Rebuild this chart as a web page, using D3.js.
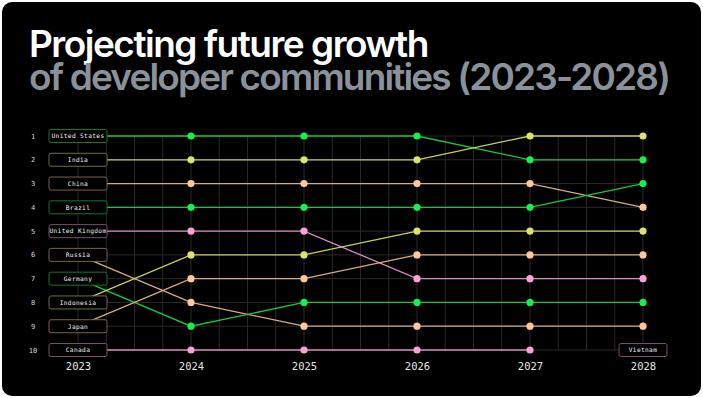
<!DOCTYPE html>
<html>
<head>
<meta charset="utf-8">
<script src="https://cdn.jsdelivr.net/npm/d3@7"></script>
<style>
  html, body { margin: 0; padding: 0; background: #fff; }
  svg { display: block; }
</style>
</head>
<body>
<div id="chart"></div>
<script>
(function() {
    let w = 703;
    let h = 398;

    // data
    let years = [2023, 2024, 2025, 2026, 2027, 2028];
    let countries = ["United States", "India", "China", "Brazil", "United Kingdom",
        "Russia", "Germany", "Indonesia", "Japan", "Canada", "Vietnam"];
    let colors = ["green", "yellow", "peach", "green", "pink",
        "peach", "green", "yellow", "peach", "pink", "pink"];
    let ranks = [
        [1, 1, 1, 1, 2, 2],
        [2, 2, 2, 2, 1, 1],
        [3, 3, 3, 3, 3, 4],
        [4, 4, 4, 4, 4, 3],
        [5, 5, 5, 7, 7, 7],
        [6, 8, 9, 9, 9, 9],
        [7, 9, 8, 8, 8, 8],
        [8, 6, 6, 5, 5, 5],
        [9, 7, 7, 6, 6, 6],
        [10, 10, 10, 10, 10, null],
        [null, null, null, null, null, 10]
    ];
    let rankTicks = [1, 2, 3, 4, 5, 6, 7, 8, 9, 10];

    let palette = {
        green:  { dot: "#13f04f", line: "#12c944", box: "#0d7a2c" },
        yellow: { dot: "#dbe468", line: "#c9d05a", box: "#6e7030" },
        peach:  { dot: "#ffc79c", line: "#d9aa86", box: "#7d6050" },
        pink:   { dot: "#ff9fd9", line: "#d98bbb", box: "#7a4f68" }
    };

    let svg = d3.select("#chart")
        .append("svg")
        .attr("width", w)
        .attr("height", h);

    svg.append("rect")
        .attr("x", 2).attr("y", 2)
        .attr("width", w - 4).attr("height", h - 4)
        .attr("rx", 10)
        .attr("fill", "#000");

    // title
    svg.append("text")
        .attr("x", 29).attr("y", 57)
        .attr("fill", "#fff")
        .attr("font-family", "Inter")
        .attr("font-weight", 600)
        .attr("font-size", 37)
        .attr("letter-spacing", -1.5)
        .text("Projecting future growth");
    svg.append("text")
        .attr("x", 29).attr("y", 90)
        .attr("fill", "#8a919b")
        .attr("font-family", "Inter")
        .attr("font-weight", 600)
        .attr("font-size", 37)
        .attr("letter-spacing", -1.85)
        .text("of developer communities (2023-2028)");

    let x = d3.scaleLinear().domain([2023, 2028]).range([78, 643]);
    let y = d3.scaleLinear().domain([1, 10]).range([136, 350]);

    // grid
    let g = svg.append("g");
    g.selectAll(".vgrid")
        .data(d3.range(2023, 2028.01, 0.25))
        .enter().append("line")
        .attr("x1", (d) => x(d)).attr("x2", (d) => x(d))
        .attr("y1", y(1)).attr("y2", y(10))
        .attr("stroke", "#292929").attr("stroke-width", 1);
    g.selectAll(".hgrid")
        .data(rankTicks)
        .enter().append("line")
        .attr("x1", x(2023)).attr("x2", x(2028))
        .attr("y1", (d) => y(d)).attr("y2", (d) => y(d))
        .attr("stroke", "#292929").attr("stroke-width", 1);

    // rank numbers
    svg.selectAll(".rank")
        .data(rankTicks)
        .enter().append("text")
        .attr("x", 33).attr("y", (d) => y(d) + 2.5)
        .attr("text-anchor", "middle")
        .attr("fill", "#d8d8d8")
        .attr("font-family", "DejaVu Sans Mono")
        .attr("font-size", 7)
        .text((d) => d);

    // year axis
    let axis = svg.append("g")
        .attr("transform", "translate(0," + 360 + ")")
        .call(d3.axisBottom(x).tickValues(years).tickFormat(d3.format("d")).tickSize(0));
    axis.select(".domain").remove();
    axis.selectAll("text")
        .attr("fill", "#e6e6e6")
        .attr("font-family", "DejaVu Sans Mono")
        .attr("font-size", 10.5);

    let series = countries.map((c, i) => ({
        name: c,
        color: palette[colors[i]],
        points: years.map((yr, j) => ({ year: yr, rank: ranks[i][j] }))
            .filter((p) => p.rank !== null)
    }));

    let line = d3.line()
        .x((d) => x(d.year))
        .y((d) => y(d.rank));

    svg.selectAll(".series")
        .data(series)
        .enter().append("path")
        .attr("d", (d) => line(d.points))
        .attr("fill", "none")
        .attr("stroke", (d) => d.color.line)
        .attr("stroke-width", 1.3);

    // dots (skip first point, covered by label box)
    let dots = [];
    series.forEach((s) => {
        s.points.slice(1).forEach((p) => dots.push({ year: p.year, rank: p.rank, color: s.color }));
    });
    svg.selectAll(".dot")
        .data(dots)
        .enter().append("circle")
        .attr("cx", (d) => x(d.year))
        .attr("cy", (d) => y(d.rank))
        .attr("r", 3.6)
        .attr("fill", (d) => d.color.dot);

    // label boxes at first point
    let labels = svg.selectAll(".label")
        .data(series)
        .enter().append("g")
        .attr("transform", (d) => "translate(" + x(d.points[0].year) + "," + y(d.points[0].rank) + ")");
    labels.append("rect")
        .attr("x", (d) => d.points[0].year === 2023 ? -29 : -24)
        .attr("y", -6.5)
        .attr("width", (d) => d.points[0].year === 2023 ? 58 : 48)
        .attr("height", 13)
        .attr("rx", 2)
        .attr("fill", "#000")
        .attr("stroke", (d) => d.color.box)
        .attr("stroke-width", 1);
    labels.append("text")
        .attr("y", 2.3)
        .attr("text-anchor", "middle")
        .attr("fill", "#f0f0f0")
        .attr("font-family", "DejaVu Sans Mono")
        .attr("font-size", 6.2)
        .attr("letter-spacing", 0.35)
        .text((d) => d.name);
})();
</script>
</body>
</html>
